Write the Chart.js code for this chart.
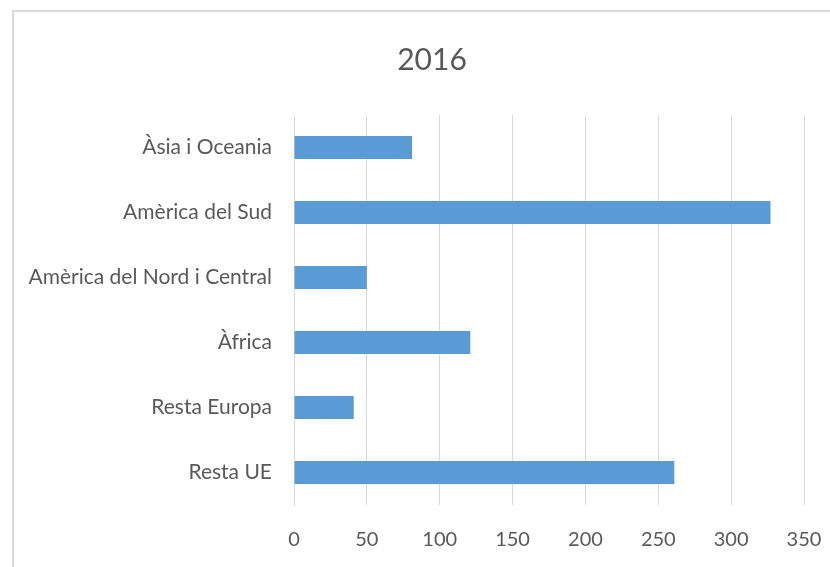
<!DOCTYPE html>
<html>
<head>
<meta charset="utf-8">
<script src="https://cdn.jsdelivr.net/npm/chart.js@4/dist/chart.umd.min.js"></script>
<style>
html,body{margin:0;padding:0;background:#fff;overflow:hidden;}
#wrap{position:relative;width:830px;height:567px;}
#frame{position:absolute;left:12px;top:10px;width:840px;height:600px;border:2px solid #d9d9d9;box-sizing:border-box;}
#chart{position:absolute;left:0;top:0;}
</style>
</head>
<body>
<div id="wrap">
<div id="frame"></div>
<canvas id="chart" width="830" height="567"></canvas>
</div>
<script>
// 2016 - horizontal bars
const categories = ["Àsia i Oceania","Amèrica del Sud","Amèrica del Nord i Central","Àfrica","Resta Europa","Resta UE"];
const values2016 = [81,327,50,121,41,261];
const xTicks = [0,50,100,150,200,250,300,350];

const textGrey = "#595959";
const gridGrey = "#d9d9d9";
const fontFam = "Lato, 'Open Sans', sans-serif";

const ctx = document.getElementById("chart");

new Chart(ctx,{
type:"bar",
data:{
labels:categories,
datasets:[{
label:"2016",
data:values2016,
backgroundColor:"#5b9bd5",
borderWidth:0,
barPercentage:0.355,
categoryPercentage:1
}]
},
options:{
indexAxis:"y",
responsive:false,
animation:false,
// left/right padding keep the title centred like the original
layout:{padding:{left:28,right:-6,top:0,bottom:0}},
plugins:{
legend:{display:false},
tooltip:{enabled:false},
title:{
display:true,
text:"2016",
color:textGrey,
font:{family:fontFam,size:30,weight:"normal"},
padding:{top:42,bottom:37}
}
},
scales:{
x:{
min:xTicks[0],
max:xTicks[xTicks.length-1],
afterBuildTicks:(axis)=>{axis.ticks = xTicks.map(v=>({value:v}));},
grid:{color:gridGrey,drawTicks:false},
border:{display:false},
ticks:{color:textGrey,font:{family:fontFam,size:20},padding:23},
afterFit:(axis)=>{axis.height=62;axis.paddingRight=26;}
},
y:{
grid:{display:false},
border:{color:gridGrey},
ticks:{color:textGrey,font:{family:fontFam,size:21},padding:14},
afterFit:(axis)=>{axis.width=266;}
}
}
}
});
</script>
</body>
</html>
